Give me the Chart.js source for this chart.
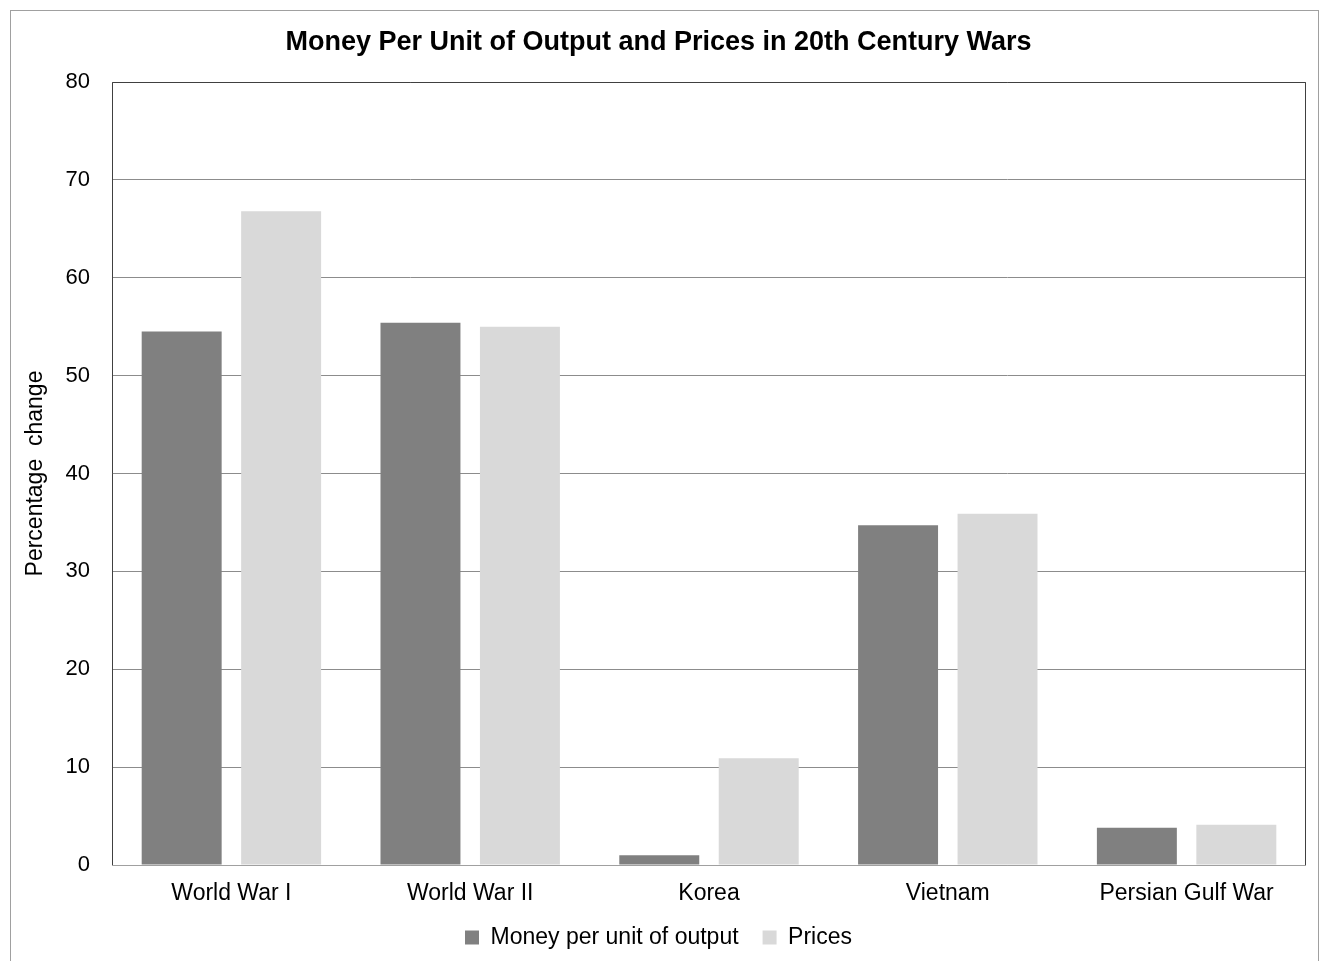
<!DOCTYPE html>
<html>
<head>
<meta charset="utf-8">
<title>Money Per Unit of Output and Prices in 20th Century Wars</title>
<script src="https://cdn.jsdelivr.net/npm/chart.js@4/dist/chart.umd.min.js"></script>
<style>
    html, body { margin: 0; padding: 0; background: #fff; }
    #wrap { position: relative; width: 1320px; height: 961px; }
</style>
</head>
<body>
<div id="wrap"><canvas id="bar-chart"></canvas></div>
<script>
'use strict';

// data
var wars = ['World War I', 'World War II', 'Korea', 'Vietnam', 'Persian Gulf War'];
var moneyPerUnit = [54.5, 55.4, 1.0, 34.7, 3.8];
var prices = [66.8, 55.0, 10.9, 35.9, 4.1];
var yTicks = [0, 10, 20, 30, 40, 50, 60, 70, 80];

var FONT = "'Liberation Sans', Arial, sans-serif";

// outer frame + dark plot box
var frame = {
    id: 'frame',
    beforeDraw: function(chart) {
        var ctx = chart.ctx;
        ctx.save();
        ctx.fillStyle = '#fff';
        ctx.fillRect(0, 0, chart.width, chart.height);
        ctx.strokeStyle = '#a0a0a0';
        ctx.lineWidth = 1;
        ctx.strokeRect(10.5, 10.5, chart.width - 12, chart.height - 8);
        ctx.restore();
    },
    afterDatasetsDraw: function(chart) {
        var a = chart.chartArea, ctx = chart.ctx;
        ctx.save();
        ctx.strokeStyle = '#404040';
        ctx.lineWidth = 1;
        ctx.beginPath();
        ctx.moveTo(Math.round(a.left) + 0.5, Math.round(a.bottom));
        ctx.lineTo(Math.round(a.left) + 0.5, Math.round(a.top) + 0.5);
        ctx.lineTo(Math.round(a.right) - 0.5, Math.round(a.top) + 0.5);
        ctx.lineTo(Math.round(a.right) - 0.5, Math.round(a.bottom));
        ctx.stroke();
        ctx.strokeStyle = '#a0a0a0';
        ctx.beginPath();
        ctx.moveTo(a.left, Math.round(a.bottom) + 0.5);
        ctx.lineTo(a.right, Math.round(a.bottom) + 0.5);
        ctx.stroke();
        ctx.restore();
    }
};

new Chart(document.getElementById('bar-chart'), {
    type: 'bar',
    data: {
        labels: wars,
        datasets: [
            {
                label: 'Money per unit of output',
                data: moneyPerUnit,
                backgroundColor: '#808080',
                categoryPercentage: 0.833,
                barPercentage: 0.804
            },
            {
                label: 'Prices',
                data: prices,
                backgroundColor: '#d9d9d9',
                categoryPercentage: 0.833,
                barPercentage: 0.804
            }
        ]
    },
    options: {
        responsive: true,
        maintainAspectRatio: false,
        animation: false,
        layout: { padding: { top: 10, right: 14, bottom: 2, left: 11 } },
        plugins: {
            title: {
                display: true,
                text: 'Money Per Unit of Output and Prices in 20th Century Wars',
                color: '#000',
                font: { family: FONT, size: 27, weight: 'bold' },
                padding: { top: 16, bottom: 23.6 }
            },
            legend: {
                position: 'bottom',
                labels: {
                    color: '#000',
                    font: { family: FONT, size: 23 },
                    boxWidth: 14,
                    boxHeight: 14,
                    padding: 24
                }
            },
            tooltip: { enabled: false }
        },
        scales: {
            x: {
                grid: { display: false, drawTicks: false },
                border: { display: false },
                ticks: { color: '#000', font: { family: FONT, size: 23 }, padding: 15 },
                afterFit: function(scale) { scale.height = 37; }
            },
            y: {
                min: 0,
                max: 80,
                afterBuildTicks: function(scale) {
                    scale.ticks = yTicks.map(function(v) { return { value: v }; });
                },
                grid: { color: '#8c8c8c', drawTicks: false },
                border: { display: false },
                ticks: { color: '#000', font: { family: FONT, size: 22 }, padding: 22 },
                title: {
                    display: true,
                    text: 'Percentage  change',
                    color: '#000',
                    font: { family: FONT, size: 23 },
                    padding: { top: 11, bottom: 0 }
                },
                afterFit: function(scale) { scale.width = 101; }
            }
        }
    },
    plugins: [frame]
});
</script>
</body>
</html>
